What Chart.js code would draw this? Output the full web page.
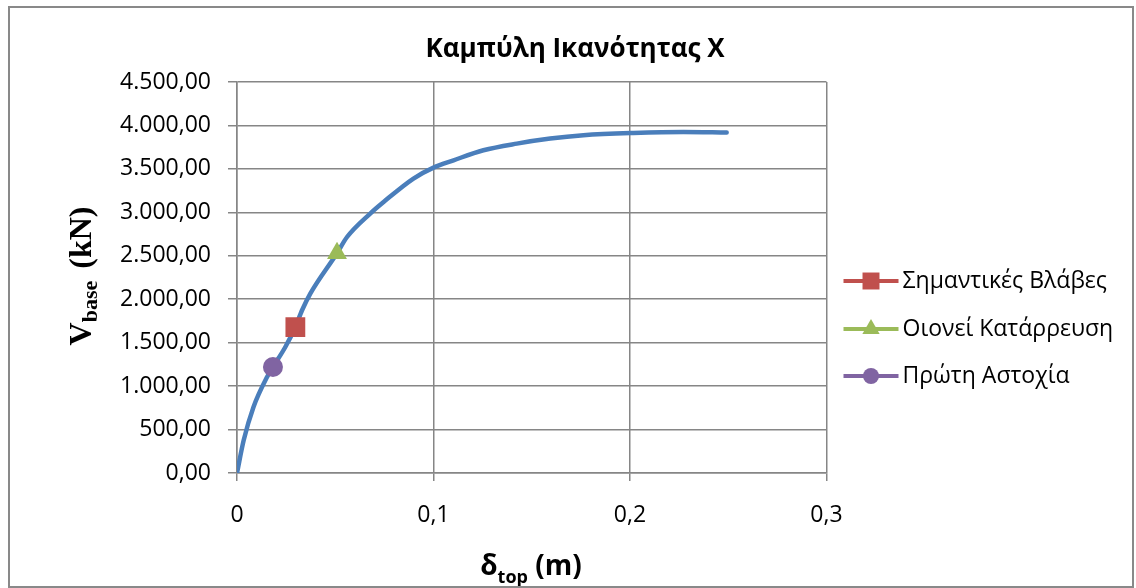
<!DOCTYPE html>
<html>
<head>
<meta charset="utf-8">
<script src="https://cdn.jsdelivr.net/npm/chart.js@4.4.0/dist/chart.umd.min.js"></script>
<style>
  html, body { margin: 0; padding: 0; background: #fff; }
  #wrap { position: relative; width: 1136px; height: 588px; }
  #frame { position: absolute; left: 8px; top: 6px; width: 1122px; height: 578px; border: 2px solid #898989; pointer-events: none; }
  canvas { position: absolute; left: 0; top: 0; }
</style>
</head>
<body>
<div id="wrap">
  <canvas id="chart" width="1136" height="588"></canvas>
  <div id="frame"></div>
</div>
<script>
// capacity curve
const curveX = [0, 0.0034, 0.0084, 0.0153, 0.0183, 0.0246, 0.0297, 0.0331, 0.0373, 0.0509, 0.0560,
  0.0678, 0.0746, 0.0898, 0.1000, 0.1102, 0.1254, 0.1424, 0.1594, 0.1763, 0.2017, 0.2272, 0.2492];
const curveY = [0, 376, 760, 1105, 1220, 1450, 1680, 1873, 2065, 2530, 2716,
  2986, 3119, 3389, 3515, 3599, 3714, 3791, 3849, 3887, 3913, 3925, 3918];

// performance levels
const markerLabels = ['Σημαντικές Βλάβες', 'Οιονεί Κατάρρευση', 'Πρώτη Αστοχία'];
const markerX = [0.0297, 0.0509, 0.0183];
const markerY = [1680, 2530, 1220];
const markerColors = ['#C0504D', '#9BBB59', '#8064A2'];
const markerShapes = ['rect', 'triangle', 'circle'];

const xTicks = [0, 0.1, 0.2, 0.3];
const yMax = 4500;
const yStep = 500;

const chartTitle = 'Καμπύλη Ικανότητας Χ';

function fmtY(v) {
  const parts = Math.round(v).toString().replace(/\B(?=(\d{3})+(?!\d))/g, '.');
  return parts + ',00';
}
function fmtX(v) {
  return Number(v.toFixed(2)).toString().replace('.', ',');
}

const curveData = curveX.map((x, i) => ({ x: x, y: curveY[i] }));
const markerSets = markerLabels.map((label, i) => ({
  label: label,
  data: [{ x: markerX[i], y: markerY[i] }],
  order: 0,
  pointStyle: markerShapes[i],
  pointRadius: [14, 11.5, 10][i],
  pointHoverRadius: [14, 11.5, 10][i],
  backgroundColor: markerColors[i],
  borderColor: markerColors[i],
  pointBorderWidth: 0,
  showLine: false
}));

const extras = {
  id: 'extras',
  afterDraw(chart) {
    const ctx = chart.ctx;
    const a = chart.chartArea;
    ctx.save();
    ctx.fillStyle = '#000';

    // title
    ctx.font = 'bold 26px "Open Sans"';
    ctx.textAlign = 'center';
    ctx.textBaseline = 'alphabetic';
    ctx.fillText(chartTitle, 575, 57);

    // y axis title, V_base (kN)
    ctx.textAlign = 'left';
    const big = 'bold 32px "Liberation Serif"';
    const small = 'bold 22px "Liberation Serif"';
    ctx.font = big; const wV = ctx.measureText('V').width;
    ctx.font = small; const wB = ctx.measureText('base').width;
    ctx.font = big; const wK = ctx.measureText('(kN)').width;
    const gap = 12;
    const total = wV + wB + gap + wK;
    ctx.save();
    ctx.translate(91, 276 + total / 2);
    ctx.rotate(-Math.PI / 2);
    ctx.font = big; ctx.fillText('V', 0, 0);
    ctx.font = small; ctx.fillText('base', wV, 6);
    ctx.font = big; ctx.fillText('(kN)', wV + wB + gap, 0);
    ctx.restore();

    // x axis title, δ_top (m)
    const bx = 'bold 28px "Open Sans"';
    const sx = 'bold 18px "Open Sans"';
    ctx.font = bx; const wd = ctx.measureText('δ').width;
    ctx.font = sx; const wt = ctx.measureText('top').width;
    ctx.font = bx; const wm = ctx.measureText(' (m)').width;
    let px = 531 - (wd + wt + wm) / 2;
    ctx.font = bx; ctx.fillText('δ', px, 575); px += wd;
    ctx.font = sx; ctx.fillText('top', px, 583); px += wt;
    ctx.font = bx; ctx.fillText(' (m)', px, 575);

    // legend
    const rows = [199, 247, 294];
    const legendSizes = [12, 10, 8];
    markerLabels.forEach((label, i) => {
      const y = a.top + rows[i];
      const x0 = a.right + 17, x1 = a.right + 72;
      ctx.strokeStyle = markerColors[i];
      ctx.fillStyle = markerColors[i];
      ctx.lineWidth = 4;
      ctx.beginPath();
      ctx.moveTo(x0, y);
      ctx.lineTo(x1, y);
      ctx.stroke();
      Chart.helpers.drawPoint(ctx, { pointStyle: markerShapes[i], radius: legendSizes[i], borderWidth: 0, rotation: 0 }, (x0 + x1) / 2, y);
      ctx.fillStyle = '#000';
      ctx.font = '23px "Open Sans"';
      ctx.textBaseline = 'middle';
      ctx.fillText(label, x1 + 4, y);
      ctx.textBaseline = 'alphabetic';
    });
    ctx.restore();
  }
};

new Chart(document.getElementById('chart'), {
  type: 'scatter',
  data: {
    datasets: [{
      label: 'curve',
      data: curveData,
      order: 10,
      showLine: true,
      borderColor: '#4A7EBB',
      borderWidth: 4.5,
      pointRadius: 0,
      pointHoverRadius: 0,
      cubicInterpolationMode: 'monotone',
      borderCapStyle: 'round'
    }].concat(markerSets)
  },
  options: {
    responsive: false,
    animation: false,
    layout: { padding: { top: 82, right: 309.5, left: 0, bottom: 0 } },
    plugins: {
      legend: { display: false },
      title: { display: false },
      tooltip: { enabled: false }
    },
    scales: {
      x: {
        type: 'linear',
        min: 0,
        max: 0.3,
        afterFit(scale) { scale.height = 115; },
        afterBuildTicks(scale) { scale.ticks = xTicks.map(v => ({ value: v })); },
        grid: { color: '#868686', lineWidth: 1.5, tickLength: 8, drawTicks: true },
        border: { color: '#868686', width: 1.5 },
        ticks: {
          padding: 21,
          color: '#000',
          font: { family: 'Open Sans', size: 23 },
          callback: v => fmtX(v)
        }
      },
      y: {
        type: 'linear',
        min: 0,
        max: yMax,
        afterFit(scale) { scale.width = 237; },
        grid: { color: '#868686', lineWidth: 1.5, tickLength: 9 },
        border: { color: '#868686', width: 1.5 },
        ticks: {
          stepSize: yStep,
          padding: 17,
          color: '#000',
          font: { family: 'Open Sans', size: 23 },
          callback: v => fmtY(v)
        }
      }
    }
  },
  plugins: [extras]
});
</script>
</body>
</html>
